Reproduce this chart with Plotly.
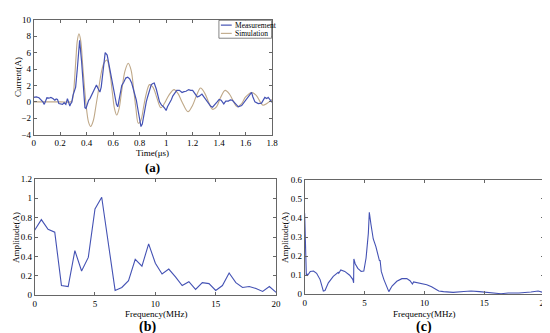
import plotly.graph_objects as go

# ---------------- (a) time domain ----------------
t_meas = [0.0, 0.02, 0.04, 0.055, 0.07, 0.08, 0.09, 0.10, 0.115, 0.13, 0.145, 0.16, 0.17, 0.18,
          0.19, 0.205, 0.218, 0.23, 0.243, 0.255, 0.265, 0.273, 0.28, 0.287, 0.297, 0.307, 0.317,
          0.33, 0.347, 0.362, 0.374, 0.387, 0.395, 0.405, 0.415, 0.425, 0.44, 0.455, 0.465, 0.474,
          0.487, 0.5, 0.51, 0.525, 0.54, 0.555, 0.57, 0.59, 0.605, 0.615, 0.625, 0.635, 0.645,
          0.655, 0.665, 0.68, 0.695, 0.71, 0.725, 0.74, 0.755, 0.765, 0.775, 0.79, 0.80, 0.81,
          0.82, 0.835, 0.85, 0.86, 0.875, 0.888, 0.90, 0.91, 0.925, 0.94, 0.95, 0.965, 0.975,
          0.99, 1.0, 1.01, 1.025, 1.04, 1.05, 1.065, 1.08, 1.1, 1.12, 1.135, 1.15, 1.17, 1.185,
          1.2, 1.22, 1.235, 1.25, 1.27, 1.285, 1.3, 1.32, 1.335, 1.35, 1.37, 1.385, 1.4, 1.415,
          1.435, 1.45, 1.47, 1.485, 1.5, 1.52, 1.545, 1.57, 1.595, 1.62, 1.645, 1.655, 1.67,
          1.695, 1.72, 1.745, 1.76, 1.77, 1.785, 1.8]
i_meas = [0.55, 0.6, 0.5, 0.3, 0.0, -0.3, 0.2, 0.5, 0.45, 0.55, 0.4, 0.2, 0.35, 0.3,
          -0.2, -0.3, -0.3, -0.1, -0.3, 0.4, -0.1, -0.5, -0.2, -0.1, 0.8, 1.3, 1.8,
          4.1, 7.5, 4.9, 1.7, -0.7, -0.8, -0.3, 0.2, 0.4, 0.9, 1.3, 1.6, 2.05,
          1.6, 1.2, 1.8, 4.0, 6.0, 5.7, 4.5, 2.9, 1.5, 0.6, -0.3, -0.6, 0.2,
          1.2, 2.0, 2.4, 2.9, 3.0, 2.8, 2.3, 1.5, 1.0, 0.2, -1.2, -2.3, -3.0,
          -2.7, -1.2, 0.0, 0.6, 1.5, 2.1, 2.25, 2.3, 1.6, 0.6, 0.0, -0.4, -0.5,
          -0.8, -1.05, -0.6, -0.2, 0.3, 0.7, 1.1, 1.4, 1.4, 1.15, 1.25, 1.3, 1.5, 1.4,
          1.4, 0.9, 0.6, 0.7, 0.95, 0.6, 0.25, -0.2, -0.5, -0.65, -0.2, 0.0, 0.3, 0.2,
          -0.25, 0.1, 0.1, 0.25, 0.2, -0.2, -0.6, -0.45, 0.1, 0.65, 1.15, 0.6, 0.0,
          -0.2, -0.15, 0.55, 0.4, 0.55, 0.2, -0.05]

t_sim = [0.0, 0.1, 0.2, 0.28, 0.29, 0.30, 0.31, 0.32, 0.33, 0.342, 0.355, 0.37, 0.385, 0.40,
         0.415, 0.43, 0.45, 0.47, 0.49, 0.51, 0.53, 0.553, 0.575, 0.595, 0.61, 0.627, 0.645,
         0.665, 0.69, 0.714, 0.735, 0.755, 0.772, 0.79, 0.81, 0.83, 0.85, 0.875, 0.9, 0.93,
         0.96, 0.99, 1.02, 1.06, 1.09, 1.12, 1.165, 1.2, 1.23, 1.26, 1.29, 1.32, 1.35, 1.38,
         1.41, 1.445, 1.48, 1.51, 1.535, 1.57, 1.6, 1.645, 1.68, 1.71, 1.73, 1.76, 1.8]
i_sim = [0.0, 0.0, 0.0, 0.0, 0.1, 1.0, 3.0, 5.5, 7.5, 8.3, 7.5, 4.5, 1.5, -1.0,
         -2.5, -3.0, -2.3, -0.5, 1.5, 3.5, 4.7, 5.1, 3.6, 1.0, -0.8, -1.6, -0.8,
         1.4, 3.8, 4.7, 3.9, 1.5, -0.8, -2.6, -2.2, -0.6, 1.0, 2.1, 1.8, 0.5,
         -0.7, -0.1, 0.8, 1.5, 1.0, 0.0, -1.2, -0.4, 0.8, 1.7, 1.1, 0.0, -0.9, -0.6,
         0.5, 1.4, 0.9, 0.0, -0.6, -0.2, 0.6, 1.15, 0.8, 0.0, -0.4, -0.2, 0.3]

# ---------------- (b) spectrum (coarse) ----------------
f_b = [0.0, 0.556, 1.111, 1.667, 2.222, 2.778, 3.333, 3.889, 4.444, 5.0, 5.556, 6.111, 6.667,
       7.222, 7.778, 8.333, 8.889, 9.444, 10.0, 10.556, 11.111, 11.667, 12.222, 12.778, 13.333,
       13.889, 14.444, 15.0, 15.556, 16.111, 16.667, 17.222, 17.778, 18.333, 18.889, 19.444, 20.0]
amp_b = [0.67, 0.78, 0.68, 0.65, 0.10, 0.09, 0.46, 0.25, 0.39, 0.89, 1.01, 0.53, 0.05,
         0.08, 0.15, 0.37, 0.30, 0.53, 0.33, 0.22, 0.27, 0.19, 0.10, 0.14, 0.06,
         0.13, 0.12, 0.05, 0.10, 0.23, 0.13, 0.08, 0.09, 0.07, 0.04, 0.09, 0.03]

# ---------------- (c) spectrum (fine) ----------------
f_c = [0.0, 0.14, 0.2, 0.25, 0.47, 0.74, 1.0, 1.29, 1.56, 1.7, 1.98, 2.39, 2.8, 2.85, 2.9,
       3.02, 3.35, 3.76, 4.03, 4.09, 4.11, 4.22, 4.44, 4.72, 4.94, 5.13, 5.32, 5.4, 5.54,
       5.73, 5.95, 6.14, 6.22, 6.25, 6.3, 6.4, 6.62, 6.9, 7.03, 7.3, 7.7, 8.12, 8.53, 8.8,
       9.0, 9.1, 9.47, 9.9, 10.2, 10.6, 10.9, 11.2, 11.6, 12.4, 13.3, 13.9, 14.6, 15.6,
       16.4, 17.0, 17.9, 18.9, 19.5, 20.0]
amp_c = [0.425, 0.10, 0.105, 0.10, 0.12, 0.122, 0.11, 0.077, 0.017, 0.02, 0.06, 0.094, 0.115, 0.11, 0.118,
         0.128, 0.12, 0.10, 0.077, 0.06, 0.185, 0.16, 0.136, 0.12, 0.122, 0.19, 0.32, 0.43, 0.366,
         0.29, 0.25, 0.21, 0.19, 0.175, 0.18, 0.12, 0.077, 0.026, 0.014, 0.043, 0.068, 0.082, 0.082, 0.071,
         0.054, 0.065, 0.06, 0.056, 0.05, 0.04, 0.03, 0.017, 0.014, 0.01, 0.015, 0.017, 0.014, 0.01,
         0.003, 0.007, 0.007, 0.012, 0.017, 0.008]

BLUE = "#4452b4"
TAN = "#bfa888"
FONT = "Liberation Serif"
W, H = 550, 333

def px(x):
    return x / W

def py(y):
    return 1 - y / H

fig = go.Figure()
fig.add_trace(go.Scatter(x=t_sim, y=i_sim, mode="lines", name="Simulation",
                         line=dict(color=TAN, width=1.1, shape="spline", smoothing=1.0),
                         xaxis="x", yaxis="y", showlegend=False))
fig.add_trace(go.Scatter(x=t_meas, y=i_meas, mode="lines", name="Measurement",
                         line=dict(color=BLUE, width=1.2),
                         xaxis="x", yaxis="y", showlegend=False))
fig.add_trace(go.Scatter(x=f_b, y=amp_b, mode="lines", line=dict(color=BLUE, width=1.1),
                         xaxis="x2", yaxis="y2", showlegend=False))
fig.add_trace(go.Scatter(x=f_c, y=amp_c, mode="lines", line=dict(color=BLUE, width=1.1),
                         xaxis="x3", yaxis="y3", showlegend=False))

ax = dict(showline=True, linecolor="#666666", linewidth=0.8, mirror="ticks", ticks="inside",
          ticklen=3, tickcolor="#666666", tickwidth=0.8, showgrid=False, zeroline=False,
          tickfont=dict(family=FONT, size=9, color="black"), fixedrange=True,
          ticklabeloverflow="allow")

fig.update_layout(
    width=W, height=H, margin=dict(l=0, r=0, t=0, b=0),
    paper_bgcolor="white", plot_bgcolor="white",
    xaxis=dict(ax, domain=[px(24), px(266)], range=[0, 1.8], dtick=0.2, anchor="y"),
    yaxis=dict(ax, domain=[py(125.5), py(7)], range=[-4, 10], dtick=2, anchor="x"),
    xaxis2=dict(ax, domain=[px(25), px(270)], range=[0, 20], tickvals=[0, 5, 10, 15, 20], anchor="y2"),
    yaxis2=dict(ax, domain=[py(291), py(171)], range=[0, 1.2], dtick=0.2, anchor="x2"),
    xaxis3=dict(ax, domain=[px(299), px(542)], range=[0, 20], tickvals=[0, 5, 10, 15, 20], anchor="y3"),
    yaxis3=dict(ax, domain=[py(290), py(172)], range=[0, 0.6], dtick=0.1, anchor="x3"),
)

def label(x, y, text, size=9, angle=0, bold=False, xanchor="center"):
    fig.add_annotation(x=px(x), y=py(y), xref="paper", yref="paper", text=("<b>%s</b>" % text) if bold else text,
                       showarrow=False, textangle=angle, xanchor=xanchor, yanchor="middle",
                       font=dict(family=FONT, size=size, color="black"))

label(145, 144, "Time(μs)")
label(8, 66, "Current(A)", angle=-90)
label(145, 159, "(a)", size=13, bold=True)
label(148, 310, "Frequency(MHz)")
label(6, 231, "Amplitude(A)", angle=-90)
label(140, 324, "(b)", size=14, bold=True)
label(420, 310, "Frequency(MHz)")
label(279, 231, "Amplitude(A)", angle=-90)
label(420, 324, "(c)", size=14, bold=True)

# legend box (a)
fig.add_shape(type="rect", xref="paper", yref="paper", x0=px(212), x1=px(265.5), y0=py(26), y1=py(7.5),
              line=dict(color="#666666", width=0.8), fillcolor="white")
fig.add_shape(type="line", xref="paper", yref="paper", x0=px(214), x1=px(225), y0=py(12.5), y1=py(12.5),
              line=dict(color=BLUE, width=1.2))
fig.add_shape(type="line", xref="paper", yref="paper", x0=px(214), x1=px(225), y0=py(21), y1=py(21),
              line=dict(color=TAN, width=1.1))
label(226, 12.5, "Measurement", size=7.5, xanchor="left")
label(226, 21, "Simulation", size=7.5, xanchor="left")

fig.write_html("out.html")
